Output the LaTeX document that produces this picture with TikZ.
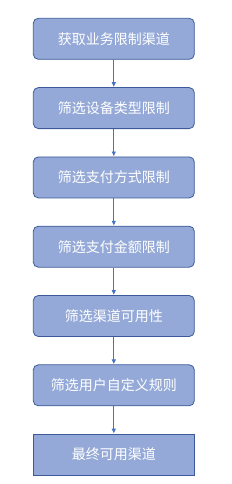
\documentclass[tikz,border=0pt]{standalone}
\usepackage{fontspec}
\newfontfamily\cjk{Noto Sans CJK SC}
\usetikzlibrary{arrows.meta,positioning}

\definecolor{boxfill}{HTML}{94A9D7}
\definecolor{boxline}{HTML}{3C5A99}
\definecolor{arrowline}{HTML}{4472C4}

\begin{document}
\begin{tikzpicture}[x=1pt, y=1pt, >={Triangle[length=4.5pt, width=4pt]},
  stepbox/.style={draw=boxline, fill=boxfill, rounded corners=5pt, line width=0.8pt,
    minimum width=161pt, minimum height=41pt, inner sep=0pt,
    text=white, font=\cjk\fontsize{14}{16}\selectfont},
  endbox/.style={stepbox, rounded corners=0pt},
  link/.style={->, draw=arrowline, line width=0.8pt, shorten >=0.5pt},
  node distance=27.5pt]
  \useasboundingbox (0,0) rectangle (232,-484);

  % Steps
  \node[stepbox] (fetch) at (113.8,-38.8) {获取业务限制渠道};
  \node[stepbox, below=of fetch] (device) {筛选设备类型限制};
  \node[stepbox, below=of device] (paytype) {筛选支付方式限制};
  \node[stepbox, below=of paytype] (amount) {筛选支付金额限制};
  \node[stepbox, below=of amount] (usable) {筛选渠道可用性};
  \node[stepbox, below=of usable] (custom) {筛选用户自定义规则};
  \node[endbox, below=of custom] (final) {最终可用渠道};

  % Arrows
  \draw[link] (fetch) -- (device);
  \draw[link] (device) -- (paytype);
  \draw[link] (paytype) -- (amount);
  \draw[link] (amount) -- (usable);
  \draw[link] (usable) -- (custom);
  \draw[link] (custom) -- (final);
\end{tikzpicture}
\end{document}
